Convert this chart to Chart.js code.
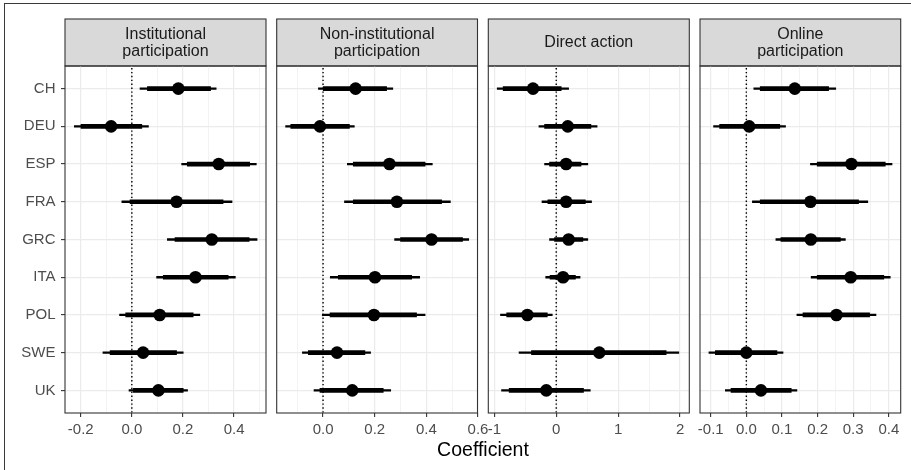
<!DOCTYPE html>
<html><head><meta charset="utf-8">
<script src="https://cdn.jsdelivr.net/npm/chart.js@4.4.1/dist/chart.umd.min.js"></script>
<style>
html,body{margin:0;padding:0;background:#fff;}
#wrap{position:relative;width:911px;height:470px;overflow:hidden;background:#fff;}
#wrap canvas{position:absolute;left:0;top:0;}
#frame{position:absolute;left:4px;top:3px;width:1000px;height:1000px;border-top:1.5px solid #3a3a3a;border-left:1.5px solid #3a3a3a;}
#xtitle{position:absolute;left:0;width:966px;top:438px;line-height:22px;text-align:center;font-family:"Liberation Sans",Arial,sans-serif;font-size:19.5px;color:#000;}
</style></head>
<body>
<div id="wrap">
<div id="frame"></div>
<canvas id="c0" width="911" height="470"></canvas>
<canvas id="c1" width="911" height="470"></canvas>
<canvas id="c2" width="911" height="470"></canvas>
<canvas id="c3" width="911" height="470"></canvas>
<div id="xtitle">Coefficient</div>
</div>
<script>
// ---- data ----
const countries = ['CH','DEU','ESP','FRA','GRC','ITA','POL','SWE','UK'];
const panelTitles = [['Institutional','participation'],['Non-institutional','participation'],['Direct action'],['Online','participation']];

const instEst  = [0.182,-0.081,0.340,0.175,0.313,0.249,0.109,0.044,0.104];
const instLo95 = [0.032,-0.225,0.195,-0.039,0.139,0.097,-0.048,-0.113,-0.011];
const instLo90 = [0.061,-0.199,0.217,-0.007,0.169,0.123,-0.024,-0.085,0.006];
const instHi90 = [0.308,0.039,0.461,0.357,0.459,0.377,0.240,0.175,0.201];
const instHi95 = [0.330,0.065,0.487,0.392,0.490,0.405,0.266,0.201,0.218];

const nonEst  = [0.126,-0.012,0.257,0.286,0.420,0.201,0.197,0.054,0.113];
const nonLo95 = [-0.018,-0.145,0.094,0.083,0.277,0.028,-0.003,-0.080,-0.035];
const nonLo90 = [0.001,-0.125,0.117,0.117,0.300,0.059,0.027,-0.057,-0.012];
const nonHi90 = [0.246,0.102,0.395,0.459,0.540,0.343,0.362,0.162,0.233];
const nonHi95 = [0.270,0.121,0.423,0.493,0.564,0.374,0.395,0.184,0.262];

const dirEst  = [-0.375,0.186,0.160,0.160,0.200,0.110,-0.466,0.695,-0.160];
const dirLo95 = [-0.953,-0.279,-0.188,-0.230,-0.108,-0.170,-0.900,-0.600,-0.883];
const dirLo90 = [-0.857,-0.188,-0.108,-0.135,-0.027,-0.100,-0.800,-0.400,-0.760];
const dirHi90 = [0.080,0.560,0.400,0.470,0.430,0.310,-0.144,1.775,0.440];
const dirHi95 = [0.200,0.660,0.510,0.570,0.510,0.385,-0.064,1.980,0.550];

const onlEst  = [0.136,0.008,0.295,0.180,0.181,0.293,0.253,0.000,0.041];
const onlLo95 = [0.021,-0.092,0.180,0.017,0.083,0.182,0.142,-0.105,-0.059];
const onlLo90 = [0.039,-0.075,0.199,0.039,0.097,0.199,0.159,-0.087,-0.043];
const onlHi90 = [0.231,0.094,0.390,0.315,0.264,0.386,0.346,0.086,0.126];
const onlHi95 = [0.251,0.110,0.409,0.341,0.278,0.404,0.364,0.103,0.142];

// tick values and labels
const instMajor = [-0.2,0,0.2,0.4];      const instLabels = ['-0.2','0.0','0.2','0.4'];
const instMinor = [-0.1,0.1,0.3,0.5];
const nonMajor  = [0,0.2,0.4,0.6];       const nonLabels  = ['0.0','0.2','0.4','0.6'];
const nonMinor  = [-0.1,0.1,0.3,0.5];
const dirMajor  = [-1,0,1,2];            const dirLabels  = ['-1','0','1','2'];
const dirMinor  = [-0.5,0.5,1.5];
const onlMajor  = [-0.1,0,0.1,0.2,0.3,0.4]; const onlLabels = ['-0.1','0.0','0.1','0.2','0.3','0.4'];
const onlMinor  = [-0.05,0.05,0.15,0.25,0.35];

// ---- layout ----
const FONT = "'Liberation Sans', Arial, sans-serif";
const panels = [
  {id:'c0', title:panelTitles[0], est:instEst, lo95:instLo95, hi95:instHi95, lo90:instLo90, hi90:instHi90, major:instMajor, labels:instLabels, minor:instMinor, left:65, right:266, min:-0.2615, max:0.525, yLabels:true},
  {id:'c1', title:panelTitles[1], est:nonEst, lo95:nonLo95, hi95:nonHi95, lo90:nonLo90, hi90:nonHi90, major:nonMajor, labels:nonLabels, minor:nonMinor, left:276.7, right:477.5, min:-0.1795, max:0.598, yLabels:false},
  {id:'c2', title:panelTitles[2], est:dirEst, lo95:dirLo95, hi95:dirHi95, lo90:dirLo90, hi90:dirHi90, major:dirMajor, labels:dirLabels, minor:dirMinor, left:488.3, right:689.3, min:-1.097, max:2.149, yLabels:false},
  {id:'c3', title:panelTitles[3], est:onlEst, lo95:onlLo95, hi95:onlHi95, lo90:onlLo90, hi90:onlHi90, major:onlMajor, labels:onlLabels, minor:onlMinor, left:700, right:900.7, min:-0.1301, max:0.4334, yLabels:false}
];

const STRIP_TOP = 19, PANEL_TOP = 66, PANEL_BOTTOM = 413, H = 470, W = 911;

const panelPlugin = {
  id:'panelDeco',
  beforeDraw(chart){
    const {ctx, chartArea:a} = chart;
    ctx.save();
    ctx.fillStyle = '#d9d9d9';
    ctx.fillRect(a.left, STRIP_TOP, a.right-a.left, PANEL_TOP-STRIP_TOP);
    ctx.strokeStyle = '#333333';
    ctx.lineWidth = 1.1;
    ctx.strokeRect(a.left, STRIP_TOP, a.right-a.left, PANEL_TOP-STRIP_TOP);
    ctx.restore();
  },
  beforeDatasetsDraw(chart){
    const {ctx, chartArea:a, scales} = chart;
    const x0 = scales.x.getPixelForValue(0);
    ctx.save();
    ctx.strokeStyle = '#000';
    ctx.lineWidth = 1.4;
    ctx.setLineDash([1.4, 2.5]);
    ctx.beginPath();
    ctx.moveTo(x0, a.top + 2);
    ctx.lineTo(x0, a.bottom);
    ctx.stroke();
    ctx.restore();
  },
  afterDraw(chart){
    const {ctx, chartArea:a} = chart;
    ctx.save();
    ctx.strokeStyle = '#333333';
    ctx.lineWidth = 1.1;
    ctx.strokeRect(a.left, a.top, a.right-a.left, a.bottom-a.top);
    ctx.restore();
  }
};

function near(arr, v){ return arr.findIndex(m => Math.abs(m - v) < 1e-9); }

panels.forEach(p => {
  const idx = countries.map((c,i)=>i);
  const twoLine = p.title.length === 2;
  new Chart(document.getElementById(p.id), {
    type:'bar',
    data:{
      datasets:[
        {type:'scatter', data: idx.map(i => ({x:p.est[i], y:i})), pointRadius:6.3, pointHoverRadius:6.3,
         backgroundColor:'#000', borderWidth:0, showLine:false, order:0},
        {type:'bar', data: idx.map(i => ({x:[p.lo90[i], p.hi90[i]], y:i})), backgroundColor:'#000',
         barThickness:4, grouped:false, borderWidth:0, order:1},
        {type:'bar', data: idx.map(i => ({x:[p.lo95[i], p.hi95[i]], y:i})), backgroundColor:'#000',
         barThickness:1.7, grouped:false, borderWidth:0, order:2}
      ]
    },
    options:{
      indexAxis:'y',
      responsive:false, animation:false, devicePixelRatio:1,
      events:[],
      layout:{padding:{left: p.yLabels ? 0 : p.left, right: W - p.right, top:0, bottom:0}},
      plugins:{
        legend:{display:false}, tooltip:{enabled:false},
        title:{display:true, text:p.title, fullSize:false, align:'center', color:'#1a1a1a',
               font:{family:FONT, size:16, weight:'normal', lineHeight:1.05},
               padding: twoLine ? {top:26.2, bottom:6.2} : {top:34.2, bottom:15}}
      },
      scales:{
        x:{type:'linear', position:'bottom', min:p.min, max:p.max, offset:false,
           afterBuildTicks: s => { s.ticks = p.major.concat(p.minor).sort((a,b)=>a-b).map(v => ({value:v})); },
           afterFit: s => { s.height = H - PANEL_BOTTOM; },
           border:{display:false},
           grid:{
             offset:false,
             color:'#ebebeb',
             lineWidth: c => (c.tick && near(p.major, c.tick.value) >= 0) ? 1.2 : 0.6,
             tickColor: c => (c.tick && near(p.major, c.tick.value) >= 0) ? '#333333' : 'rgba(0,0,0,0)',
             tickWidth:1.1, tickLength:4, drawTicks:true
           },
           ticks:{autoSkip:false, maxRotation:0, padding:4, color:'#4d4d4d',
                  font:{family:FONT, size:15},
                  callback: v => { const k = near(p.major, v); return k >= 0 ? p.labels[k] : ''; }}
        },
        y:{type:'linear', position:'left', reverse:true, min:-0.6, max:8.6, offset:false,
           afterBuildTicks: s => { s.ticks = idx.map(i => ({value:i})); },
           afterFit: s => { s.width = p.yLabels ? p.left : 0; },
           border:{display:false},
           grid:{offset:false, color:'#ebebeb', lineWidth:1.2, tickColor:'#333333', tickWidth:1.1, tickLength:4, drawTicks:p.yLabels},
           ticks:{display:p.yLabels, autoSkip:false, padding:5.5, color:'#4d4d4d',
                  font:{family:FONT, size:15},
                  callback: v => countries[v] ?? ''}
        }
      }
    },
    plugins:[panelPlugin]
  });
});
</script>
</body></html>
